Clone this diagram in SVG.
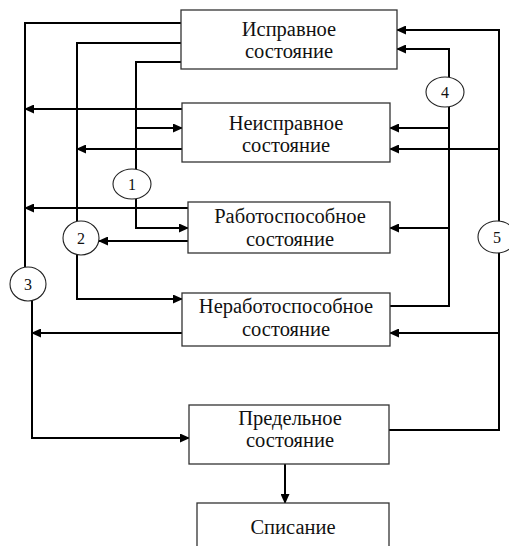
<svg xmlns="http://www.w3.org/2000/svg" width="509" height="546" viewBox="0 0 509 546">
<style>
.box{fill:#fff;stroke:#333;stroke-width:1.3}
.t{font-family:"Liberation Serif","Times New Roman",serif;font-size:20.5px;fill:#111;text-anchor:middle}
.c{fill:#fff;stroke:#222;stroke-width:1.1}
.n{font-family:"Liberation Serif","Times New Roman",serif;font-size:16px;fill:#111;text-anchor:middle}
.ln{fill:none;stroke:#000;stroke-width:2}
.ar{fill:none;stroke:#000;stroke-width:2;marker-end:url(#a)}
</style>
<defs>
<marker id="a" markerWidth="10" markerHeight="9" refX="9" refY="4.5" orient="auto" markerUnits="userSpaceOnUse">
<path d="M0,0 L10,4.5 L0,9 z" fill="#000"/>
</marker>
</defs>
<rect width="509" height="546" fill="#fff"/>
<g id="connectors">
<!-- group 1 -->
<path class="ln" d="M181,62 H136 V169"/>
<path class="ar" d="M136,128 H182"/>
<path class="ar" d="M136,199 V228 H188"/>
<!-- group 2 -->
<path class="ln" d="M181,43 H77 V221"/>
<path class="ar" d="M182,149 H77"/>
<path class="ar" d="M188,241 H99"/>
<path class="ar" d="M77,255 V299 H182"/>
<!-- group 3 -->
<path class="ln" d="M181,23 H25 V267"/>
<path class="ar" d="M182,109 H25"/>
<path class="ar" d="M188,208 H25"/>
<path class="ar" d="M32,301 V438 H189"/>
<path class="ar" d="M182,333 H32"/>
<!-- group 4 -->
<path class="ln" d="M390,306 H449 V107"/>
<path class="ar" d="M449,77 V49 H397"/>
<path class="ar" d="M449,128 H390"/>
<path class="ar" d="M449,228 H390"/>
<!-- group 5 -->
<path class="ln" d="M389,430 H499 V253"/>
<path class="ar" d="M499,221 V30 H397"/>
<path class="ar" d="M499,149 H390"/>
<path class="ar" d="M499,333 H390"/>
<!-- to write-off -->
<path class="ar" d="M285,464 V503"/>
</g>
<g id="n-ispravnoe">
<rect class="box" x="181" y="10" width="216" height="59"/>
<text class="t" x="289" y="36">Исправное</text>
<text class="t" x="289" y="58">состояние</text>
</g>
<g id="n-neispravnoe">
<rect class="box" x="182" y="103" width="208" height="59"/>
<text class="t" x="286" y="130">Неисправное</text>
<text class="t" x="286" y="152">состояние</text>
</g>
<g id="n-rabotosposobnoe">
<rect class="box" x="188" y="202" width="202" height="51"/>
<text class="t" x="290" y="223">Работоспособное</text>
<text class="t" x="290" y="246">состояние</text>
</g>
<g id="n-nerabotosposobnoe">
<rect class="box" x="182" y="293" width="208" height="53"/>
<text class="t" x="286" y="313">Неработоспособное</text>
<text class="t" x="286" y="336">состояние</text>
</g>
<g id="n-predelnoe">
<rect class="box" x="189" y="405" width="200" height="59"/>
<text class="t" x="290" y="425">Предельное</text>
<text class="t" x="290" y="447">состояние</text>
</g>
<g id="n-spisanie">
<rect class="box" x="197" y="503" width="192" height="60"/>
<text class="t" x="293" y="534">Списание</text>
</g>
<g id="c1"><ellipse class="c" cx="132" cy="184" rx="19" ry="15"/><text class="n" x="132" y="190">1</text></g>
<g id="c2"><ellipse class="c" cx="81" cy="238" rx="18" ry="17"/><text class="n" x="81" y="244">2</text></g>
<g id="c3"><ellipse class="c" cx="28" cy="284" rx="18" ry="17"/><text class="n" x="28" y="290">3</text></g>
<g id="c4"><ellipse class="c" cx="445" cy="92" rx="19" ry="15"/><text class="n" x="445" y="98">4</text></g>
<g id="c5"><ellipse class="c" cx="497" cy="237" rx="19" ry="16"/><text class="n" x="497" y="243">5</text></g>
</svg>
